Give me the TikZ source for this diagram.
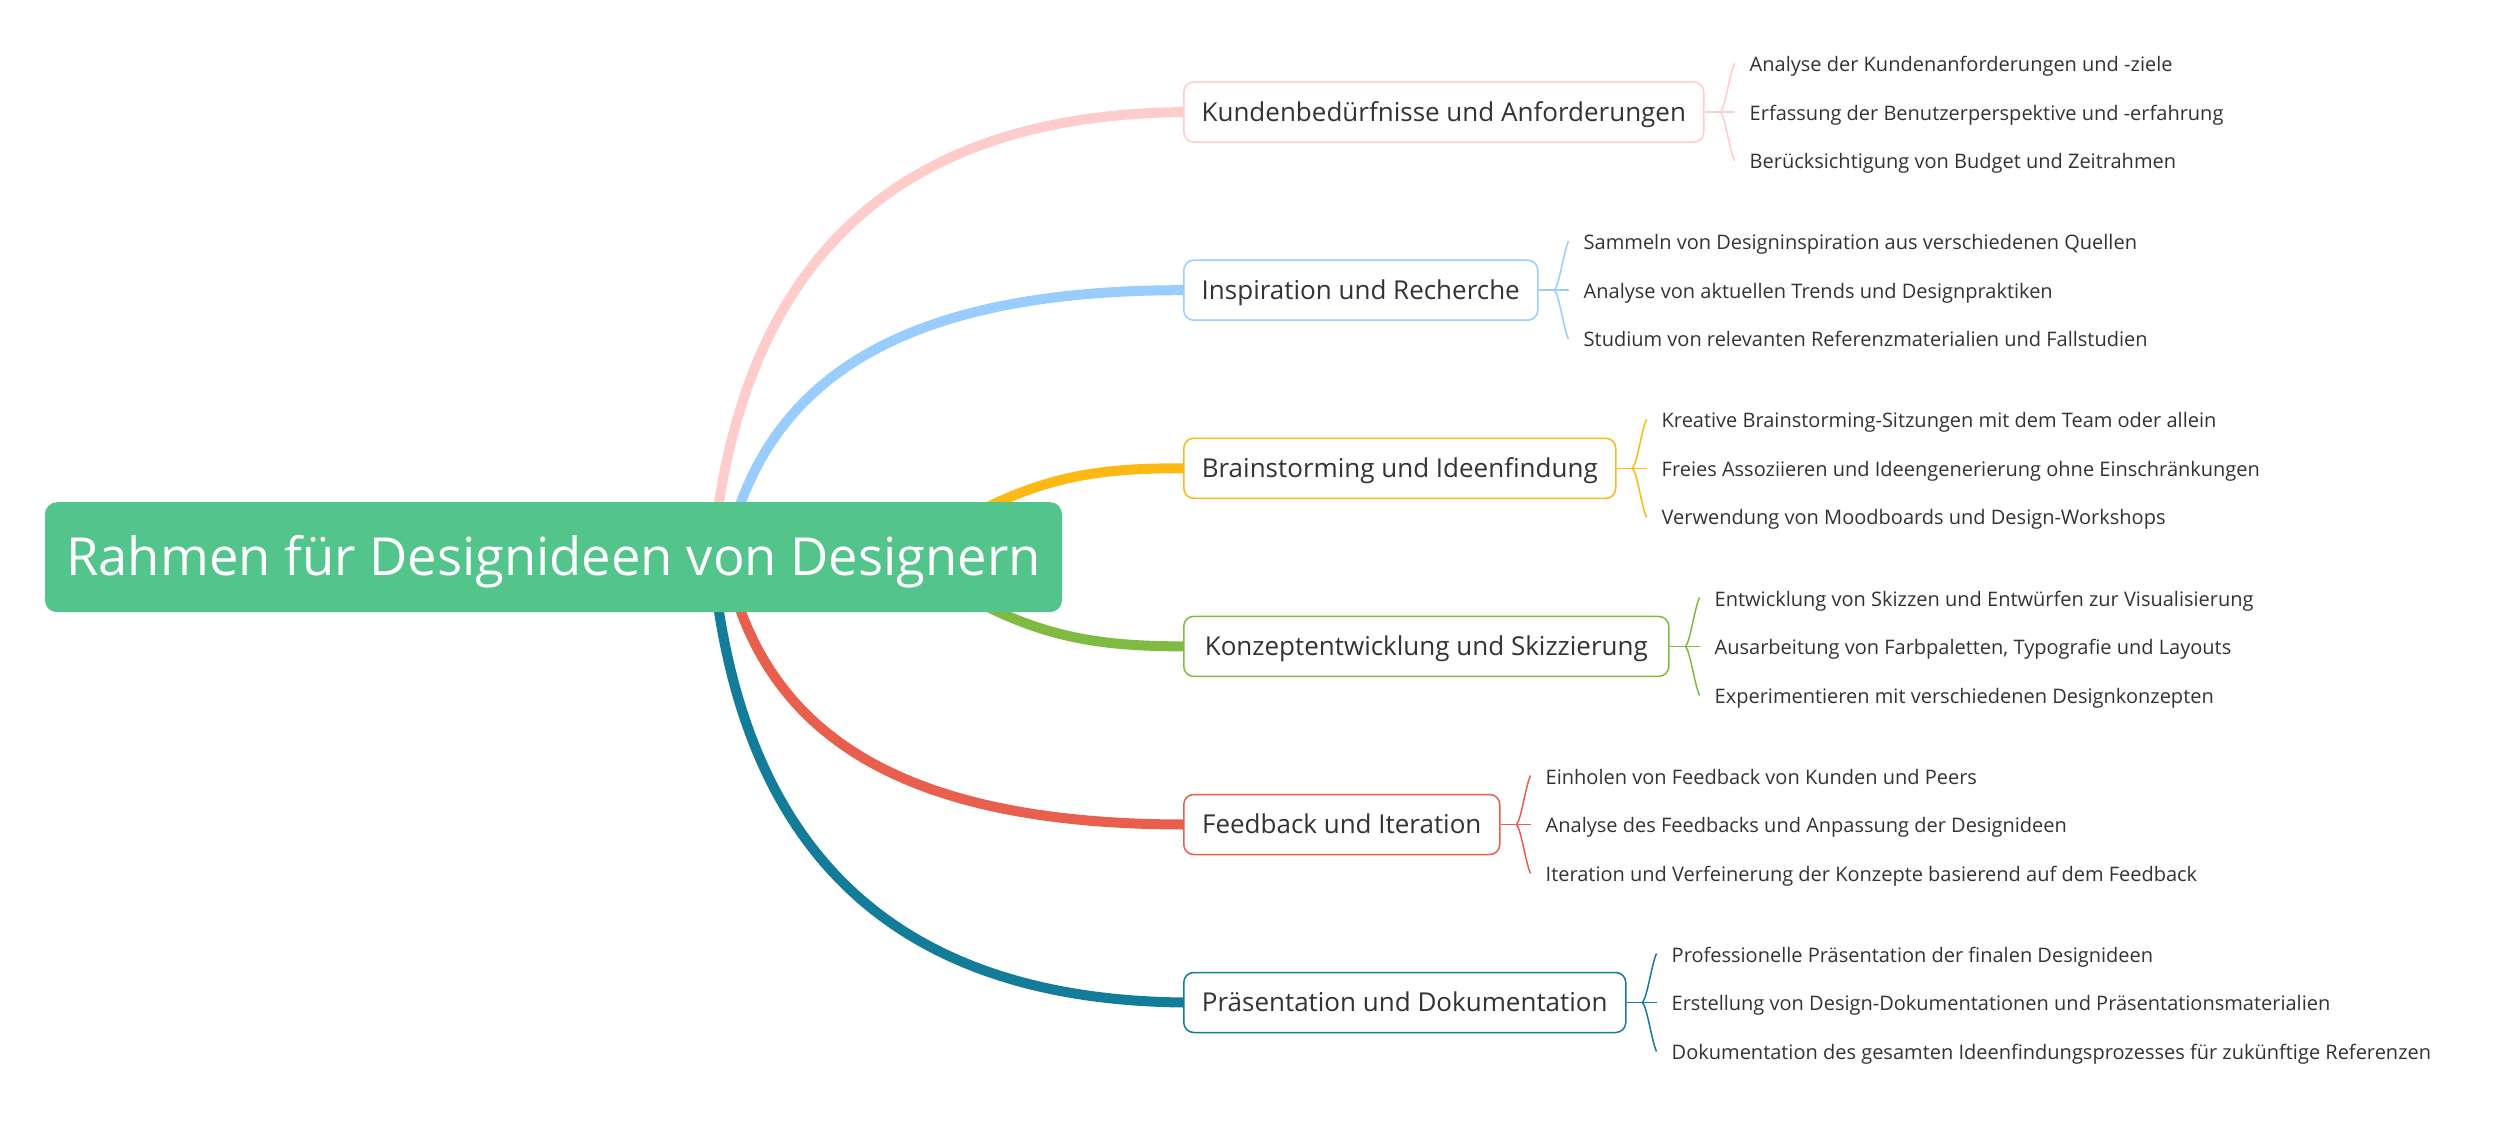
\documentclass[tikz,border=0pt]{standalone}
\usepackage{fontspec}
\setmainfont{Open Sans}
\usetikzlibrary{calc}
\pgfdeclarelayer{background}
\pgfsetlayers{background,main}
\definecolor{rootc}{HTML}{52C48C}
\definecolor{pinkc}{HTML}{FFCCCC}
\definecolor{bluec}{HTML}{99CCFF}
\definecolor{orangec}{HTML}{FDB813}
\definecolor{greenc}{HTML}{80BB41}
\definecolor{redc}{HTML}{E95F4E}
\definecolor{tealc}{HTML}{137C98}
\definecolor{txt}{HTML}{333333}
\newcommand{\bracedraw}[2]{%
  \draw[brace,#2] (#1.east) -- ($(#1.east)+(30,0)$);
  \draw[brace,#2] ($(#1.east)+(16,0)$) .. controls ($(#1.east)+(21,-6)$) and ($(#1.east)+(25,-38)$) .. ($(#1-1.west)+(-15,-1.5)$);
  \draw[brace,#2] ($(#1.east)+(16,0)$) .. controls ($(#1.east)+(21,6)$) and ($(#1.east)+(25,38)$) .. ($(#1-3.west)+(-15,-0.5)$);
}
\begin{document}
\begin{tikzpicture}[x=1pt,y=-1pt,
  rootbox/.style={fill=rootc, rounded corners=12pt, text=white, font=\fontsize{52.5}{62}\selectfont,
    minimum width=1017pt, minimum height=110pt, text height=37pt, text depth=0pt, inner sep=0pt},
  branchbox/.style={fill=white, line width=1.5pt, rounded corners=10pt, text=txt,
    font=\fontsize{26}{31}\selectfont, minimum height=60pt, text height=18.6pt, text depth=0pt,
    inner sep=0pt, anchor=west},
  leaf/.style={text=txt, font=\fontsize{20}{24}\selectfont, text height=14.3pt, text depth=0pt,
    inner sep=0pt, anchor=west},
  trunk/.style={line width=10pt},
  brace/.style={line width=1.5pt}
]
\useasboundingbox (0,0) rectangle (2493,1131);

% start points (hidden under the root)
\coordinate (s1) at (712,560);
\coordinate (s2) at (725,560);
\coordinate (s3) at (900,560);
\coordinate (s4) at (900,554);
\coordinate (s5) at (725,554);
\coordinate (s6) at (712,554);

% root
\node[rootbox] (root) at (553.5,557.2) {Rahmen für Designideen von Designern};

% branch nodes
\node[branchbox, draw=pinkc, minimum width=520pt] (b1) at (1183,112.1) {Kundenbedürfnisse und Anforderungen};
\node[branchbox, draw=bluec, minimum width=354pt] (b2) at (1183,290.2) {Inspiration und Recherche};
\node[branchbox, draw=orangec, minimum width=432pt] (b3) at (1183,468.3) {Brainstorming und Ideenfindung};
\node[branchbox, draw=greenc, minimum width=485pt] (b4) at (1183,646.4) {Konzeptentwicklung und Skizzierung};
\node[branchbox, draw=redc, minimum width=316pt] (b5) at (1183,824.5) {Feedback und Iteration};
\node[branchbox, draw=tealc, minimum width=442pt] (b6) at (1183,1002.5) {Präsentation und Dokumentation};

% background and trunk curves, behind the boxes
\begin{pgfonlayer}{background}
\fill[white] (0,0) rectangle (2493,1131);
\draw[trunk, pinkc] (s1) .. controls (735,300) and (860,115) .. (b1.west);
\draw[trunk, bluec] (s2) .. controls (760,380) and (900,290) .. (b2.west);
\draw[trunk, orangec] (s3) .. controls (1015,480) and (1080,468) .. (b3.west);
\draw[trunk, greenc] (s4) .. controls (1015,634) and (1080,646) .. (b4.west);
\draw[trunk, redc] (s5) .. controls (760,734) and (900,824) .. (b5.west);
\draw[trunk, tealc] (s6) .. controls (735,814) and (860,999) .. (b6.west);
\end{pgfonlayer}

% leaves
\node[leaf] (b1-1) at ($(b1.east)+(45,-47.5)$) {Analyse der Kundenanforderungen und -ziele};
\node[leaf] (b1-2) at ($(b1.east)+(45,1)$) {Erfassung der Benutzerperspektive und -erfahrung};
\node[leaf] (b1-3) at ($(b1.east)+(45,49.5)$) {Berücksichtigung von Budget und Zeitrahmen};

\node[leaf] (b2-1) at ($(b2.east)+(45,-47.5)$) {Sammeln von Designinspiration aus verschiedenen Quellen};
\node[leaf] (b2-2) at ($(b2.east)+(45,1)$) {Analyse von aktuellen Trends und Designpraktiken};
\node[leaf] (b2-3) at ($(b2.east)+(45,49.5)$) {Studium von relevanten Referenzmaterialien und Fallstudien};

\node[leaf] (b3-1) at ($(b3.east)+(45,-47.5)$) {Kreative Brainstorming-Sitzungen mit dem Team oder allein};
\node[leaf] (b3-2) at ($(b3.east)+(45,1)$) {Freies Assoziieren und Ideengenerierung ohne Einschränkungen};
\node[leaf] (b3-3) at ($(b3.east)+(45,49.5)$) {Verwendung von Moodboards und Design-Workshops};

\node[leaf] (b4-1) at ($(b4.east)+(45,-47.5)$) {Entwicklung von Skizzen und Entwürfen zur Visualisierung};
\node[leaf] (b4-2) at ($(b4.east)+(45,1)$) {Ausarbeitung von Farbpaletten, Typografie und Layouts};
\node[leaf] (b4-3) at ($(b4.east)+(45,49.5)$) {Experimentieren mit verschiedenen Designkonzepten};

\node[leaf] (b5-1) at ($(b5.east)+(45,-47.5)$) {Einholen von Feedback von Kunden und Peers};
\node[leaf] (b5-2) at ($(b5.east)+(45,1)$) {Analyse des Feedbacks und Anpassung der Designideen};
\node[leaf] (b5-3) at ($(b5.east)+(45,49.5)$) {Iteration und Verfeinerung der Konzepte basierend auf dem Feedback};

\node[leaf] (b6-1) at ($(b6.east)+(45,-47.5)$) {Professionelle Präsentation der finalen Designideen};
\node[leaf] (b6-2) at ($(b6.east)+(45,1)$) {Erstellung von Design-Dokumentationen und Präsentationsmaterialien};
\node[leaf] (b6-3) at ($(b6.east)+(45,49.5)$) {Dokumentation des gesamten Ideenfindungsprozesses für zukünftige Referenzen};

% braces
\bracedraw{b1}{pinkc}
\bracedraw{b2}{bluec}
\bracedraw{b3}{orangec}
\bracedraw{b4}{greenc}
\bracedraw{b5}{redc}
\bracedraw{b6}{tealc}
\end{tikzpicture}
\end{document}
